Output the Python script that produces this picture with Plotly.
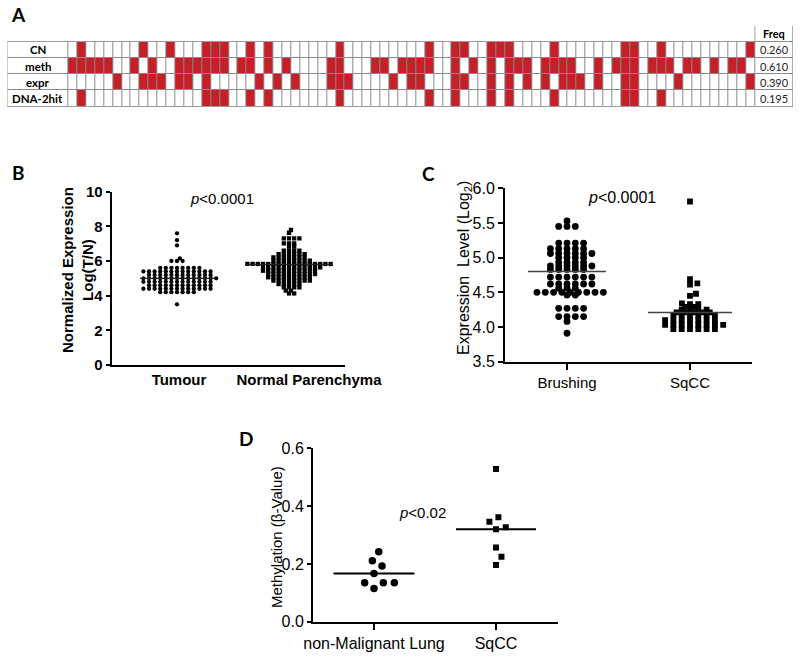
import math
import numpy as np
import plotly.graph_objects as go

W, H = 800, 660
FONT = "Liberation Sans, Arial, sans-serif"
CAL = "Lato, Carlito, Liberation Sans, sans-serif"

# ---------------- Panel A data ----------------
a_rows = ["CN", "meth", "expr", "DNA-2hit"]
a_header = "Freq"
a_n_samples = 77
a_cn = [2, 9, 12, 16, 17, 18, 21, 23, 31, 41, 44, 45, 48, 49, 50, 55, 63, 64, 67, 77]
a_meth = [1, 2, 3, 4, 5, 8, 10, 13, 14, 15, 16, 17, 18, 20, 21, 23, 25, 30, 31, 35, 36,
          38, 39, 40, 41, 44, 46, 48, 50, 51, 52, 54, 55, 56, 57, 60, 62, 63, 64, 66,
          67, 68, 70, 71, 73, 75, 76]
a_expr = [6, 9, 10, 11, 13, 14, 16, 22, 24, 26, 30, 31, 32, 37, 39, 40, 44, 45, 48, 50,
          52, 54, 56, 57, 58, 60, 63, 64, 69, 77]
a_dna = [2, 16, 17, 18, 21, 23, 31, 41, 44, 48, 50, 55, 63, 64, 67]

# ---------------- Panel B data ----------------
b_categories = ["Tumour", "Normal Parenchyma"]
b_tumour = [7.6, 7.2, 6.9, 6.15, 6.0, 6.0, 6.0,
            5.6, 5.6, 5.6, 5.6, 5.6, 5.6, 5.6, 5.6,
            5.4, 5.4, 5.4, 5.4, 5.4, 5.4, 5.4, 5.4, 5.4, 5.4, 5.4, 5.4, 5.4,
            5.2, 5.2, 5.2, 5.2, 5.2, 5.2, 5.2, 5.2, 5.2, 5.2, 5.2, 5.2,
            5.0, 5.0, 5.0, 5.0, 5.0, 5.0, 5.0, 5.0, 5.0, 5.0, 5.0, 5.0, 5.0, 5.0,
            4.8, 4.8, 4.8, 4.8, 4.8, 4.8, 4.8, 4.8, 4.8, 4.8, 4.8, 4.8, 4.8,
            4.6, 4.6, 4.6, 4.6, 4.6, 4.6, 4.6, 4.6, 4.6, 4.6, 4.6, 4.6,
            4.4, 4.4, 4.4, 4.4, 4.4, 4.4, 4.4, 4.4, 4.4, 4.4, 4.4, 4.4, 4.4,
            4.2, 4.2, 4.2, 4.2, 4.2, 4.2, 4.2, 3.5]
b_normal = [7.79, 7.63, 7.31, 7.31, 7.31, 7.31, 7.02, 7.02, 7.02, 6.83, 6.83,
            6.6, 6.6, 6.6, 6.6, 6.4, 6.4, 6.4, 6.4, 6.4, 6.4,
            6.21, 6.21, 6.21, 6.21, 6.21, 6.21, 6.21,
            6.02, 6.02, 6.02, 6.02, 6.02, 6.02, 6.02, 6.02,
            5.83, 5.83, 5.83, 5.83, 5.83, 5.83, 5.83, 5.83, 5.83, 5.83, 5.83, 5.83,
            5.83, 5.83, 5.83, 5.83, 5.83,
            5.63, 5.63, 5.63, 5.63, 5.63, 5.63, 5.63, 5.63, 5.63, 5.63, 5.63, 5.63,
            5.44, 5.44, 5.44, 5.44, 5.44, 5.44, 5.44, 5.44, 5.44, 5.44, 5.44,
            5.25, 5.25, 5.25, 5.25, 5.25, 5.25, 5.25, 5.25, 5.25, 5.25,
            5.06, 5.06, 5.06, 5.06, 5.06, 5.06, 5.06, 5.06, 5.06,
            4.87, 4.87, 4.87, 4.87, 4.87, 4.87, 4.87, 4.87,
            4.67, 4.67, 4.67, 4.67, 4.67, 4.48, 4.48, 4.48, 4.48,
            4.29, 4.29, 4.13, 4.13]
b_medians = [5.0, 5.81]
b_yticks = [0, 2, 4, 6, 8, 10]

# ---------------- Panel C data ----------------
c_categories = ["Brushing", "SqCC"]
c_brushing = [5.53, 5.45, 5.45, 5.45, 5.21, 5.21, 5.21, 5.21,
              5.13, 5.13, 5.13, 5.13, 5.13, 5.06, 5.06, 5.06, 5.06, 5.06, 5.06,
              5.0, 5.0, 5.0, 5.0, 4.93, 4.93, 4.93, 4.93,
              4.88, 4.88, 4.88, 4.88, 4.88, 4.88, 4.83, 4.83, 4.83, 4.83, 4.83,
              4.72, 4.72, 4.72, 4.72, 4.72, 4.72, 4.62, 4.62, 4.62, 4.62, 4.62, 4.62,
              4.56, 4.56, 4.56, 4.5, 4.5, 4.5, 4.5, 4.5, 4.5, 4.5, 4.5, 4.5,
              4.46, 4.46, 4.27, 4.27, 4.27, 4.27, 4.15, 4.15, 4.15, 4.15, 4.08, 3.91]
c_sqcc = [5.81, 4.69, 4.63, 4.61, 4.48, 4.45, 4.34, 4.33, 4.33, 4.29, 4.29,
          4.25, 4.25, 4.25, 4.25, 4.21, 4.21, 4.21, 4.21, 4.21,
          4.17, 4.17, 4.17, 4.17, 4.17, 4.17, 4.1, 4.1, 4.1, 4.1, 4.1, 4.1, 4.1,
          4.03, 4.03, 4.03, 4.03, 4.03, 4.03, 4.03, 4.03,
          3.97, 3.97, 3.97, 3.97, 3.97, 3.97]
c_medians = [4.8, 4.21]
c_yticks = [3.5, 4.0, 4.5, 5.0, 5.5, 6.0]

# ---------------- Panel D data ----------------
d_categories = ["non-Malignant Lung", "SqCC"]
d_nonmal = [0.242, 0.211, 0.193, 0.167, 0.135, 0.135, 0.135, 0.115]
d_sqcc = [0.528, 0.361, 0.346, 0.327, 0.320, 0.257, 0.225, 0.196]
d_medians = [0.167, 0.320]
d_yticks = [0.0, 0.2, 0.4, 0.6]


def px_x(x):
    return x / W


def px_y(y):
    return 1 - y / H


def swarm(values, sx, h, ky):
    v = np.asarray(values, float)
    order = np.argsort(v, kind="stable")
    off = np.zeros(len(v))
    placed = []
    for i in order:
        y = v[i] * ky
        ivs = []
        for (px, py) in placed:
            dy = abs(py - y)
            if dy < h:
                hw = sx * math.sqrt(1 - (dy / h) ** 2)
                ivs.append((px - hw, px + hw))
        cands = [0.0] + [e for iv in ivs for e in iv]
        cands.sort(key=lambda c: (round(abs(c), 6), -c))
        for c in cands:
            if all(not (lo + 1e-6 < c < hi - 1e-6) for lo, hi in ivs):
                off[i] = c
                break
        placed.append((off[i], y))
    return off


fig = go.Figure()
shapes = []
annotations = []

# ================= Panel A (heatmap grid) =================
A_X0, A_X1, A_Y0, A_Y1 = 7.3, 793.0, 26.0, 106.7
label_w, grid_w = 61.0, 686.7
cw = grid_w / a_n_samples
xr_max = A_X1 - A_X0
header_h, row_h = 15.7, (A_Y1 - A_Y0 - 15.7) / 4
x_edges = [0.0, label_w] + [label_w + (i + 1) * cw for i in range(a_n_samples)] + [xr_max]
y_edges = [0.0, header_h] + [header_h + (k + 1) * row_h for k in range(4)]
sets = [set(a_cn), set(a_meth), set(a_expr), set(a_dna)]
z = [[np.nan] * (a_n_samples + 1) + [0]]
for s in sets:
    z.append([0] + [1 if (c + 1) in s else 0 for c in range(a_n_samples)] + [0])

fig.add_trace(go.Heatmap(x=x_edges, y=y_edges, z=z, xaxis="x", yaxis="y",
                         colorscale=[[0, "#ffffff"], [1, "#c61f28"]], zmin=0, zmax=1,
                         showscale=False, xgap=1, ygap=1, hoverinfo="skip"))
grid_gray = "#8a8a8a"
shapes.append(dict(type="rect", xref="x", yref="y", x0=0, x1=xr_max, y0=header_h, y1=y_edges[-1],
                   fillcolor=grid_gray, line=dict(color=grid_gray, width=1), layer="below"))
shapes.append(dict(type="rect", xref="x", yref="y", x0=label_w + grid_w, x1=xr_max, y0=0, y1=header_h,
                   fillcolor=grid_gray, line=dict(color=grid_gray, width=1), layer="below"))
freq_cx = (label_w + grid_w + xr_max) / 2
annotations.append(dict(x=freq_cx, y=header_h / 2, xref="x", yref="y", text="<b>%s</b>" % a_header,
                        showarrow=False, font=dict(family=CAL, size=11, color="black")))
for k, (name, s) in enumerate(zip(a_rows, sets)):
    yc = header_h + (k + 0.5) * row_h
    annotations.append(dict(x=label_w / 2, y=yc, xref="x", yref="y", text="<b>%s</b>" % name,
                            showarrow=False, font=dict(family=CAL, size=11.5, color="black")))
    annotations.append(dict(x=freq_cx, y=yc, xref="x", yref="y", text="%.3f" % (len(s) / a_n_samples),
                            showarrow=False, font=dict(family=CAL, size=11, color="#222")))

# ================= Panel B =================
B_X0, B_X1, B_Y0, B_Y1 = 111.7, 345.0, 191.7, 365.0
b_ky = (B_Y1 - B_Y0) / 10.0
b_centers_px = [177.0, 289.0]
b_label_px = [179.0, 309.0]
b_half = [37.0, 44.0]
for vals, cpx, sym, sx in [(b_tumour, b_centers_px[0], "circle", 5.6),
                           (b_normal, b_centers_px[1], "square", 5.2)]:
    off = swarm(vals, sx, 3.0, b_ky)
    fig.add_trace(go.Scatter(x=(cpx - B_X0) + off, y=vals, mode="markers", xaxis="x2", yaxis="y2",
                             marker=dict(symbol=sym, size=4.3, color="black", line=dict(width=0)),
                             hoverinfo="skip"))
for m, cpx, hw in zip(b_medians, b_centers_px, b_half):
    fig.add_trace(go.Scatter(x=[cpx - B_X0 - hw, cpx - B_X0 + hw], y=[m, m], mode="lines",
                             xaxis="x2", yaxis="y2", line=dict(color="#222", width=1.2), hoverinfo="skip"))

# ================= Panel C =================
C_X0, C_X1, C_Y0, C_Y1 = 505.0, 752.0, 188.3, 361.7
c_ky = (C_Y1 - C_Y0) / 2.5
c_centers_px = [567.0, 690.0]
c_half = [39.0, 42.0]
for vals, cpx, sym, size in [(c_brushing, c_centers_px[0], "circle", 6.8),
                             (c_sqcc, c_centers_px[1], "square", 5.8)]:
    off = swarm(vals, 8.3, 3.0, c_ky)
    fig.add_trace(go.Scatter(x=(cpx - C_X0) + off, y=vals, mode="markers", xaxis="x3", yaxis="y3",
                             marker=dict(symbol=sym, size=size, color="black", line=dict(width=0)),
                             hoverinfo="skip"))
for m, cpx, hw in zip(c_medians, c_centers_px, c_half):
    fig.add_trace(go.Scatter(x=[cpx - C_X0 - hw, cpx - C_X0 + hw], y=[m, m], mode="lines",
                             xaxis="x3", yaxis="y3", line=dict(color="#444", width=1.5), hoverinfo="skip"))

# ================= Panel D =================
D_X0, D_X1, D_Y0, D_Y1 = 313.0, 558.0, 448.3, 621.7
d_ky = (D_Y1 - D_Y0) / 0.6
d_centers_px = [374.0, 496.0]
d_half = [40.5, 40.0]
for vals, cpx, sym, size, sx in [(d_nonmal, d_centers_px[0], "circle", 7.5, 11.0),
                                 (d_sqcc, d_centers_px[1], "square", 6.0, 10.0)]:
    off = swarm(vals, sx, sx, d_ky)
    fig.add_trace(go.Scatter(x=(cpx - D_X0) + off, y=vals, mode="markers", xaxis="x4", yaxis="y4",
                             marker=dict(symbol=sym, size=size, color="black", line=dict(width=0)),
                             hoverinfo="skip"))
for m, cpx, hw in zip(d_medians, d_centers_px, d_half):
    fig.add_trace(go.Scatter(x=[cpx - D_X0 - hw, cpx - D_X0 + hw], y=[m, m], mode="lines",
                             xaxis="x4", yaxis="y4", line=dict(color="black", width=2), hoverinfo="skip"))


def dom_x(x0, x1):
    return [px_x(x0), px_x(x1)]


def dom_y(ytop, ybot):
    return [px_y(ybot), px_y(ytop)]


axis_common = dict(showgrid=False, zeroline=False, showline=True, linecolor="black", linewidth=2,
                   tickcolor="black", tickwidth=2, automargin=False)

layout = dict(
    template="none",
    width=W, height=H, margin=dict(l=0, r=0, t=0, b=0, pad=0, autoexpand=False), autosize=False,
    paper_bgcolor="white", plot_bgcolor="white", showlegend=False,
    xaxis=dict(domain=dom_x(A_X0, A_X1), range=[0, xr_max], visible=False, fixedrange=True,
               automargin=False),
    yaxis=dict(domain=dom_y(A_Y0, A_Y1), range=[A_Y1 - A_Y0, 0], visible=False, fixedrange=True,
               automargin=False),
    xaxis2=dict(domain=dom_x(B_X0, B_X1), range=[0, B_X1 - B_X0], anchor="y2", ticks="",
                tickvals=[p - B_X0 for p in b_label_px], ticktext=b_categories,
                tickfont=dict(family=FONT, size=15, color="black", weight="bold"), **axis_common),
    yaxis2=dict(domain=dom_y(B_Y0, B_Y1), range=[0, 10], anchor="x2", ticks="outside", ticklen=4,
                tickvals=b_yticks, tickfont=dict(family=FONT, size=15, color="black", weight="bold"),
                **axis_common),
    xaxis3=dict(domain=dom_x(C_X0, C_X1), range=[0, C_X1 - C_X0], anchor="y3", ticks="outside", ticklen=6,
                tickvals=[p - C_X0 for p in c_centers_px], ticktext=c_categories,
                tickfont=dict(family=FONT, size=15, color="black"), **axis_common),
    yaxis3=dict(domain=dom_y(C_Y0, C_Y1), range=[3.5, 6.0], anchor="x3", ticks="outside", ticklen=5,
                tickvals=c_yticks, tickformat=".1f", tickfont=dict(family=FONT, size=16, color="black"),
                **axis_common),
    xaxis4=dict(domain=dom_x(D_X0, D_X1), range=[0, D_X1 - D_X0], anchor="y4", ticks="outside", ticklen=6,
                tickvals=[p - D_X0 for p in d_centers_px], ticktext=d_categories,
                tickfont=dict(family=FONT, size=16, color="black"), **axis_common),
    yaxis4=dict(domain=dom_y(D_Y0, D_Y1), range=[0, 0.6], anchor="x4", ticks="outside", ticklen=4,
                tickvals=d_yticks, tickformat=".1f", tickfont=dict(family=FONT, size=16, color="black"),
                **axis_common),
)


def ann(x, y, text, size, bold=False, angle=0, family=FONT):
    annotations.append(dict(x=px_x(x), y=px_y(y), xref="paper", yref="paper", text=text,
                            showarrow=False, textangle=angle, xanchor="center", yanchor="middle",
                            font=dict(family=family, size=size, color="black",
                                      weight="bold" if bold else "normal")))


# panel letters
ann(18, 14, "A", 19, bold=True, family=CAL)
ann(18, 172, "B", 19, bold=True, family=CAL)
ann(428, 173, "C", 19, bold=True, family=CAL)
ann(246, 438, "D", 19, bold=True, family=CAL)
# axis titles
ann(77, 270, "Normalized Expression<br>Log(T/N)", 15, bold=True, angle=-90)
ann(465, 268, "Expression\u00a0 Level (Log<sub>2</sub>)", 16, angle=-90)
ann(276, 537, "Methylation (\u03b2-Value)", 15, angle=-90)
# p-values
ann(222, 198, "<i>p</i>&lt;0.0001", 15)
ann(622, 197, "<i>p</i>&lt;0.0001", 16)
ann(422, 512, "<i>p</i>&lt;0.02", 15)

layout["shapes"] = shapes
layout["annotations"] = annotations
fig.update_layout(**layout)
fig.write_html("out.html", config={"displayModeBar": False},
               post_script="document.body.style.margin='0';document.body.style.overflow='hidden';")
